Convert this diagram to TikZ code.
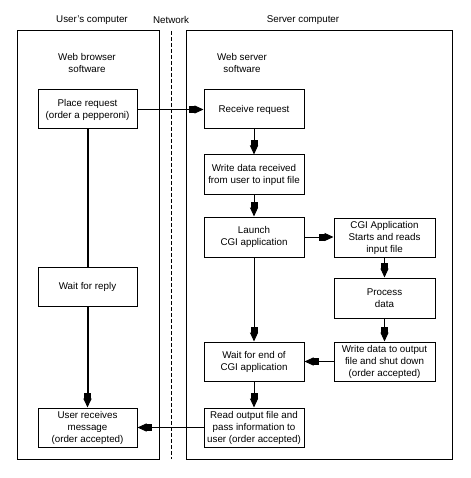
\documentclass[tikz,border=0pt]{standalone}
\usepackage{fontspec}
\setmainfont{Liberation Sans}
\usetikzlibrary{arrows.meta}
\tikzset{
  flowbox/.style={draw, line width=1pt, minimum width=99pt, minimum height=39pt, inner sep=0pt, align=center, font=\fontsize{9.8}{12}\selectfont},
  frame/.style={draw, line width=1pt},
  lbl/.style={inner sep=0pt, align=center, font=\fontsize{9.8}{12}\selectfont},
  conn/.style={line width=1pt, -{Rectangle[length=6pt,width=7pt,sep=-0.5pt]Triangle[length=9pt,width=8pt]}},
  thickconn/.style={line width=2pt, -{Rectangle[length=6pt,width=7pt,sep=-0.5pt]Triangle[length=9pt,width=8pt]}},
  thickline/.style={line width=2pt}
}
\begin{document}
\begin{tikzpicture}[x=1pt,y=-1pt]
\useasboundingbox (0,0) rectangle (470,478);
% frames
\draw[frame] (17,31) rectangle (159,459);
\draw[frame] (186,31) rectangle (452,459);
\draw[line width=1pt, dash pattern=on 4pt off 2pt] (171,31) -- (171,459);
% headings
\node[lbl] (hu) at (92,20) {User's computer};
\node[lbl] (hn) at (171,20) {Network};
\node[lbl] (hs) at (303,20) {Server computer};
\node[lbl] (wb) at (87,63) {Web browser\\software};
\node[lbl] (ws) at (242,63) {Web server\\software};
% left column
\node[flowbox] (place) at (87.5,109.5) {Place request\\(order a pepperoni)};
\node[flowbox] (reply) at (87.5,286.5) {Wait for reply};
\node[flowbox] (urecv) at (87.5,427.5) {User receives\\message\\(order accepted)};
% server column
\node[flowbox, minimum width=100pt] (recv) at (254,109.5) {Receive request};
\node[flowbox, minimum width=100pt] (write) at (254,174.5) {Write data received\\from user to input file};
\node[flowbox, minimum width=100pt, minimum height=40pt] (launch) at (254,237) {Launch\\CGI application};
\node[flowbox, minimum width=100pt] (wait) at (254,361.5) {Wait for end of\\CGI application};
\node[flowbox, minimum width=100pt] (read) at (254,427.5) {Read output file and\\pass information to\\user (order accepted)};
% CGI column
\node[flowbox, minimum width=101pt] (cgi) at (384.5,237.5) {CGI Application\\Starts and reads\\input file};
\node[flowbox, minimum width=101pt, minimum height=40pt] (proc) at (384.5,298) {Process\\data};
\node[flowbox, minimum width=101pt] (wout) at (384.5,361.5) {Write data to output\\file and shut down\\(order accepted)};
% connectors
\draw[conn] (place.east) -- (recv.west);
\draw[conn] (recv.south) -- (write.north);
\draw[conn] (write.south) -- (launch.north);
\draw[conn] (launch.east) -- (launch.east -| cgi.west);
\draw[conn] (cgi.south) -- (proc.north);
\draw[conn] (proc.south) -- (wout.north);
\draw[conn] (wout.west) -- (wait.east);
\draw[conn] (launch.south) -- (wait.north);
\draw[conn] (wait.south) -- (read.north);
\draw[conn] (read.west) -- (urecv.east);
\draw[thickline] (place.south) -- (reply.north);
\draw[thickconn] (reply.south) -- (urecv.north);
\end{tikzpicture}
\end{document}
